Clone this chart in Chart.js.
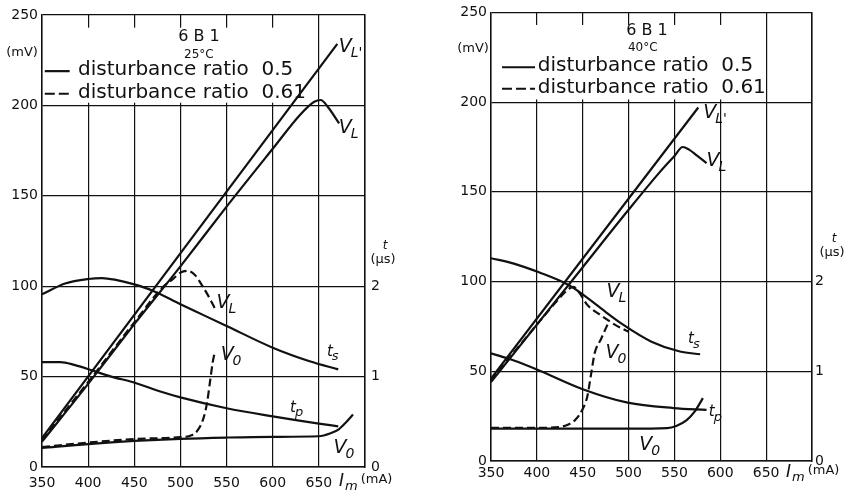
<!DOCTYPE html>
<html>
<head>
<meta charset="utf-8">
<script src="https://cdn.jsdelivr.net/npm/chart.js@4.4.0/dist/chart.umd.min.js"></script>
<style>
  html, body { margin: 0; padding: 0; background: #fff; }
  #wrap { position: relative; width: 858px; height: 494px; }
  .panel { position: absolute; top: 0; }
</style>
</head>
<body>
<div id="wrap">
  <div class="panel" style="left:0"><canvas id="c25" width="430" height="494"></canvas></div>
  <div class="panel" style="left:430px"><canvas id="c40" width="428" height="494"></canvas></div>
</div>
<script>
// axis ticks
const xTicks = [350, 400, 450, 500, 550, 600, 650];
const mvTicks = [0, 50, 100, 150, 200, 250];
const usTicks = [0, 1, 2];

// ---- 25°C panel (mV unless noted, t in µs) ----
const x25VLp = [350, 670];
const y25VLp = [16, 234];
const x25VL = [350, 400, 450, 500, 550, 600, 630, 645, 652, 660, 672];
const y25VL = [14, 46, 79, 111, 144, 176, 195, 202, 203, 199, 190];
const x25VLd = [350, 400, 450, 480, 492, 500, 508, 516, 524, 532, 537];
const y25VLd = [15, 47, 80, 99, 104, 107.5, 108.5, 106, 100, 93, 88];
const x25ts = [350, 375, 400, 415, 430, 450, 470, 500, 525, 550, 600, 640, 671];
const y25ts = [1.91, 2.03, 2.08, 2.09, 2.07, 2.02, 1.95, 1.80, 1.68, 1.56, 1.32, 1.17, 1.08];
const x25tp = [350, 370, 385, 404, 425, 448, 480, 500, 550, 600, 650, 671];
const y25tp = [1.16, 1.16, 1.13, 1.07, 1.0, 0.94, 0.83, 0.77, 0.65, 0.56, 0.48, 0.45];
const x25V0 = [350, 400, 450, 500, 550, 600, 650, 662, 672, 680, 687];
const y25V0 = [10.5, 12.7, 14.4, 15.6, 16.3, 16.7, 17, 18.5, 21, 25, 29];
const x25V0d = [350, 400, 450, 500, 512, 519, 525, 529, 532, 535, 537];
const y25V0d = [11, 13.5, 15.5, 16.5, 17.5, 20.5, 27, 36, 47, 58, 63];

// ---- 40°C panel ----
const x40VLp = [350, 576];
const y40VLp = [46, 197];
const x40VL = [350, 400, 450, 500, 534, 550, 559, 566, 575, 585];
const y40VL = [44, 76, 108, 140, 161, 170, 175, 173.5, 170, 166];
const x40VLd = [350, 400, 425, 435, 440, 446, 455, 469, 485, 500];
const y40VLd = [45, 76, 91, 96, 97, 94, 87, 81.5, 76, 72];
const x40ts = [350, 375, 403, 433, 447, 470, 494, 525, 556, 578];
const y40ts = [2.26, 2.2, 2.1, 1.97, 1.88, 1.7, 1.52, 1.33, 1.22, 1.19];
const x40tp = [350, 375, 400, 450, 499, 549, 585];
const y40tp = [1.2, 1.12, 1.02, 0.80, 0.65, 0.59, 0.57];
const x40V0 = [350, 400, 450, 500, 542, 552, 563, 572, 581];
const y40V0 = [18, 18, 18, 18, 18.3, 19.5, 22.6, 27.5, 35];
const x40V0d = [350, 400, 425, 435, 442, 450, 455, 459, 463, 470, 477];
const y40V0d = [18.5, 18.5, 19, 20.5, 23, 29, 36, 48, 60, 68, 76];

// curve names, placed at (mA, mV)
const labels25 = [
  { x: 678.6, y: 232, main: 'V', sub: "L'" },
  { x: 678.6, y: 187.5, main: 'V', sub: 'L' },
  { x: 546, y: 90.7, main: 'V', sub: 'L' },
  { x: 662, y: 63.6, main: 't', sub: 's', small: true },
  { x: 622, y: 32.6, main: 't', sub: 'p', small: true },
  { x: 550.6, y: 62, main: 'V', sub: '0' },
  { x: 673, y: 10.5, main: 'V', sub: '0' }
];
const labels40 = [
  { x: 588.5, y: 193.8, main: 'V', sub: "L'" },
  { x: 592, y: 167, main: 'V', sub: 'L' },
  { x: 483, y: 94, main: 'V', sub: 'L' },
  { x: 482, y: 60, main: 'V', sub: '0' },
  { x: 568, y: 67.7, main: 't', sub: 's', small: true },
  { x: 590.7, y: 27, main: 't', sub: 'p', small: true },
  { x: 518.8, y: 8.8, main: 'V', sub: '0' }
];

const INK = '#111';
const FONT = '"DejaVu Sans", sans-serif';

function pts(xs, ys) {
  return xs.map((x, i) => ({ x: x, y: ys[i] }));
}

function curve(xs, ys, axis, dashed) {
  return {
    data: pts(xs, ys),
    yAxisID: axis,
    borderColor: INK,
    borderWidth: 2.2,
    borderDash: dashed ? [8, 4] : [],
    pointRadius: 0,
    fill: false,
    cubicInterpolationMode: 'monotone'
  };
}

function drawName(ctx, x, y, lb) {
  const size = lb.small ? 15 : 19;
  ctx.fillStyle = INK;
  ctx.font = 'italic ' + size + 'px ' + FONT;
  ctx.textAlign = 'center';
  ctx.textBaseline = 'middle';
  ctx.fillText(lb.main, x, y);
  const w = ctx.measureText(lb.main).width;
  ctx.font = 'italic ' + (lb.small ? 13 : 14) + 'px ' + FONT;
  ctx.textAlign = 'left';
  ctx.fillText(lb.sub, x + w / 2 - 1, y + size * 0.32);
}

const decorations = {
  id: 'decorations',
  beforeDatasetsDraw(chart, args, o) {
    const { ctx, scales: { x, y } } = chart;
    ctx.save();
    // white legend box hides the grid behind the key
    ctx.fillStyle = '#fff';
    const bx0 = chart.chartArea.left + 2;
    const bx1 = x.getPixelForValue(o.box[0]);
    const by0 = y.getPixelForValue(o.box[2]);
    const by1 = y.getPixelForValue(o.box[1]);
    ctx.fillRect(bx0, by0, bx1 - bx0, by1 - by0);

    ctx.fillStyle = INK;
    ctx.textAlign = 'center';
    ctx.textBaseline = 'middle';
    ctx.font = '16px ' + FONT;
    ctx.fillText('6 B 1', x.getPixelForValue(o.title[0]), y.getPixelForValue(o.title[1]));
    ctx.font = '12px ' + FONT;
    ctx.fillText(o.temp, x.getPixelForValue(o.tempAt[0]), y.getPixelForValue(o.tempAt[1]));

    ctx.font = '20px ' + FONT;
    ctx.textAlign = 'left';
    ctx.strokeStyle = INK;
    ctx.lineWidth = 2.2;
    const rows = [['disturbance ratio  0.5', []], ['disturbance ratio  0.61', [10, 4]]];
    rows.forEach((r, i) => {
      const py = y.getPixelForValue(o.rows[i]);
      ctx.setLineDash(r[1]);
      ctx.beginPath();
      ctx.moveTo(x.getPixelForValue(o.sample[0]), py + 1);
      ctx.lineTo(x.getPixelForValue(o.sample[1]), py + 1);
      ctx.stroke();
      ctx.fillText(r[0], x.getPixelForValue(o.text), py);
    });
    ctx.restore();
  },
  afterDatasetsDraw(chart, args, o) {
    const { ctx, chartArea, scales: { x, y } } = chart;
    ctx.save();
    o.names.forEach(lb => drawName(ctx, x.getPixelForValue(lb.x), y.getPixelForValue(lb.y), lb));

    ctx.fillStyle = INK;
    ctx.textBaseline = 'middle';
    ctx.textAlign = 'center';
    ctx.font = '13px ' + FONT;
    ctx.fillText('(mV)', chartArea.left - o.mvDx, y.getPixelForValue(o.mvAt));
    const usY = y.getPixelForValue(o.usAt);
    ctx.fillText('(\u00b5s)', chartArea.right + o.usDx, usY);
    ctx.font = 'italic 12px ' + FONT;
    ctx.fillText('t', chartArea.right + o.usDx + 2, usY - 14);

    // I_m (mA)
    let px = x.getPixelForValue(700) - 26;
    const py = chartArea.bottom + o.xLabDy;
    ctx.textAlign = 'left';
    ctx.font = 'italic 17px ' + FONT;
    ctx.fillText('I', px, py);
    px += ctx.measureText('I').width + 1;
    ctx.font = 'italic 13px ' + FONT;
    ctx.fillText('m', px, py + 5);
    px += ctx.measureText('m').width + 3;
    ctx.font = '13px ' + FONT;
    ctx.fillText('(mA)', px, py - 2);
    ctx.restore();
  }
};

function panel(id, p) {
  const gridStyle = { color: INK, lineWidth: 1.2, drawTicks: false };
  new Chart(document.getElementById(id), {
    type: 'line',
    data: { datasets: p.sets },
    options: {
      responsive: false,
      animation: false,
      layout: { padding: { top: p.top, left: 0, right: 0, bottom: 0 } },
      plugins: {
        legend: { display: false },
        tooltip: { enabled: false },
        decorations: p.deco
      },
      scales: {
        x: {
          type: 'linear', min: 350, max: 700,
          afterBuildTicks: s => { s.ticks = xTicks.concat([700]).map(v => ({ value: v })); },
          ticks: { color: INK, font: { size: 14, family: FONT }, padding: p.xPad,
                   callback: v => (xTicks.includes(v) ? v : '') },
          grid: gridStyle,
          border: { color: INK, width: 1.5 },
          afterFit: s => { s.height = p.xH; }
        },
        y: {
          type: 'linear', min: 0, max: 250,
          afterBuildTicks: s => { s.ticks = mvTicks.map(v => ({ value: v })); },
          ticks: { color: INK, font: { size: 14, family: FONT }, padding: 4 },
          grid: gridStyle,
          border: { color: INK, width: 1.5 },
          afterFit: s => { s.width = p.yW; }
        },
        y2: {
          type: 'linear', position: 'right', min: 0, max: 5,
          afterBuildTicks: s => { s.ticks = usTicks.map(v => ({ value: v })); },
          ticks: { color: INK, font: { size: 14, family: FONT }, padding: p.y2Pad },
          grid: { drawOnChartArea: false, drawTicks: false },
          border: { color: INK, width: 1.5 },
          afterFit: s => { s.width = p.y2W; }
        }
      }
    },
    plugins: [decorations]
  });
}

panel('c25', {
  top: 15, yW: 42, y2W: 65, xH: 27, xPad: 8, y2Pad: 6,
  sets: [
    curve(x25VLp, y25VLp, 'y', false),
    curve(x25VL, y25VL, 'y', false),
    curve(x25VLd, y25VLd, 'y', true),
    curve(x25ts, y25ts, 'y2', false),
    curve(x25tp, y25tp, 'y2', false),
    curve(x25V0, y25V0, 'y', false),
    curve(x25V0d, y25V0d, 'y', true)
  ],
  deco: {
    names: labels25,
    box: [636, 201.5, 243],
    title: [520, 238], temp: '25°C', tempAt: [520, 228],
    rows: [219.5, 207], sample: [353, 380], text: 389,
    mvDx: 20, mvAt: 229, usDx: 18, usAt: 114.5, xLabDy: 15
  }
});

panel('c40', {
  top: 7, yW: 61, y2W: 46, xH: 33, xPad: 4, y2Pad: 3,
  sets: [
    curve(x40VLp, y40VLp, 'y', false),
    curve(x40VL, y40VL, 'y', false),
    curve(x40VLd, y40VLd, 'y', true),
    curve(x40ts, y40ts, 'y2', false),
    curve(x40tp, y40tp, 'y2', false),
    curve(x40V0, y40V0, 'y', false),
    curve(x40V0d, y40V0d, 'y', true)
  ],
  deco: {
    names: labels40,
    box: [643, 201.5, 243],
    title: [520, 240], temp: '40°C', tempAt: [515.5, 230],
    rows: [220, 208], sample: [362, 398], text: 401,
    mvDx: 18, mvAt: 230, usDx: 20, usAt: 116, xLabDy: 12
  }
});
</script>
</body>
</html>
